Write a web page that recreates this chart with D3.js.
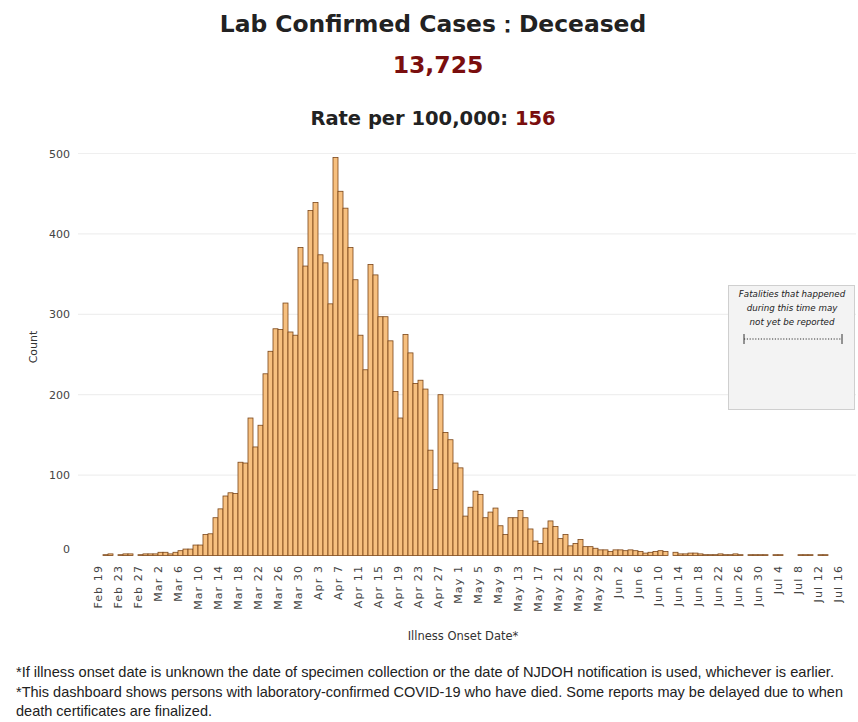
<!DOCTYPE html>
<html><head><meta charset="utf-8">
<script src="https://cdn.jsdelivr.net/npm/d3@7"></script>
<style>body{margin:0;background:#fff}</style>
</head><body>
<svg id="c" width="858" height="722"></svg>
<script>
// ---------- data ----------
const startDate = "Feb 19 2020";
// daily deceased counts by illness onset date, starting Feb 19, 2020
const counts = [
  0, 1, 2, 0, 1, 2, 2, 0, 1, 2, 2,
  2, 4, 4, 2, 4, 6, 8, 8, 13, 13,
  26, 27, 47, 58, 74, 78, 77, 116, 115, 171, 135, 162,
  226, 254, 282, 281, 314, 278, 274, 383, 360, 429, 439, 374, 364, 313,
  495, 453, 432, 383, 343, 274, 231, 362, 349, 297, 297, 267, 204, 171,
  275, 252, 214, 218, 207, 131, 82, 200, 153, 144, 115,
  109, 49, 60, 80, 76, 47, 54, 59, 37, 26, 47, 47, 56, 47, 33, 18, 15, 34, 43,
  36, 21, 26, 12, 15, 20, 11, 11, 9, 7,
  7, 5, 7, 7, 6, 7, 6, 5, 3, 4, 5, 6, 5, 0, 4, 2, 2, 3, 3, 2,
  1, 1, 1, 2, 1, 1, 2, 1, 0, 1, 1, 1, 1, 0, 1, 1, 0, 0, 0, 1, 1, 1, 0, 1, 1
];
const xTickLabels = ["Feb 19","Feb 23","Feb 27","Mar 2","Mar 6","Mar 10","Mar 14","Mar 18",
  "Mar 22","Mar 26","Mar 30","Apr 3","Apr 7","Apr 11","Apr 15","Apr 19","Apr 23","Apr 27",
  "May 1","May 5","May 9","May 13","May 17","May 21","May 25","May 29","Jun 2","Jun 6",
  "Jun 10","Jun 14","Jun 18","Jun 22","Jun 26","Jun 30","Jul 4","Jul 8","Jul 12","Jul 16"];
const yTicks = [0, 100, 200, 300, 400, 500];
const titleText = "Lab Confirmed Cases\uFF1ADeceased";
const totalText = "13,725";
const rateLabel = "Rate per 100,000: ";
const rateValue = "156";
const annotationLines = ["Fatalities that happened", "during this time may", "not yet be reported"];
const footnotes = [
  "*If illness onset date is unknown the date of specimen collection or the date of NJDOH notification is used, whichever is earlier.",
  "*This dashboard shows persons with laboratory-confirmed COVID-19 who have died. Some reports may be delayed due to when",
  "death certificates are finalized."
];
const footnoteWidths = [818, 827, 196];

// ---------- chart ----------
const svg = d3.select("#c");
const parse = d3.timeParse("%b %d %Y");
const tickDates = xTickLabels.map(s => parse(s + " 2020"));
const start = parse(startDate);
const data = counts.map((v, i) => ({date: d3.timeDay.offset(start, i), value: v}));

const x = d3.scaleTime().domain([tickDates[0], tickDates[tickDates.length - 1]]).range([98, 838]);
const y = d3.scaleLinear().domain([0, 500]).range([555.5, 153.5]);

const verdana = "Verdana, 'DejaVu Sans', sans-serif";

// title
svg.append("text").attr("x", 433).attr("y", 32).attr("text-anchor", "middle")
  .attr("font-family", verdana).attr("font-weight", "bold").attr("font-size", 23.4)
  .attr("fill", "#222").text(titleText);
svg.append("text").attr("x", 438).attr("y", 73).attr("text-anchor", "middle")
  .attr("font-family", verdana).attr("font-weight", "bold").attr("font-size", 23.5)
  .attr("fill", "#7a0e0e").text(totalText);
const rate = svg.append("text").attr("x", 433).attr("y", 125).attr("text-anchor", "middle")
  .attr("font-family", verdana).attr("font-weight", "bold").attr("font-size", 19.5).attr("fill", "#222");
rate.append("tspan").text(rateLabel);
rate.append("tspan").attr("fill", "#7a0e0e").text(rateValue);

// gridlines + y axis
const yAxis = d3.axisLeft(y).tickValues(yTicks).tickSize(0).tickPadding(0);
const gy = svg.append("g").attr("transform", "translate(70,0)").call(yAxis);
gy.select(".domain").remove();
gy.selectAll("text").attr("font-family", verdana).attr("font-size", 11).attr("fill", "#444")
  .attr("dy", d => d === 0 ? "-0.3em" : "0.32em");
const gridG = svg.append("g");
gridG.selectAll("line").data(yTicks.filter(d => d > 0)).join("line")
  .attr("x1", 78).attr("x2", 856).attr("y1", d => y(d)).attr("y2", d => y(d))
  .attr("stroke", "#efefef").attr("stroke-width", 1.2);

svg.append("text").attr("transform", "translate(37,347) rotate(-90)").attr("text-anchor", "middle")
  .attr("font-family", verdana).attr("font-size", 11).attr("fill", "#333").text("Count");

// bars
svg.append("g").selectAll("rect").data(data.filter(d => d.value > 0)).join("rect")
  .attr("x", d => x(d.date))
  .attr("width", d => x(d3.timeDay.offset(d.date, 1)) - x(d.date))
  .attr("y", d => y(d.value))
  .attr("height", d => y(0) - y(d.value))
  .attr("fill", "#f7c07f").attr("stroke", "#7a4518").attr("stroke-width", 0.8);

// x axis
const xAxis = d3.axisBottom(x).tickValues(tickDates).tickFormat(d3.timeFormat("%b %-d")).tickSize(0);
const gx = svg.append("g").attr("transform", "translate(0,556)").call(xAxis);
gx.select(".domain").remove();
gx.selectAll("text").attr("font-family", verdana).attr("font-size", 11).attr("fill", "#444")
  .attr("letter-spacing", "1.1px")
  .attr("text-anchor", "end").attr("transform", "rotate(-90)")
  .attr("x", -9).attr("y", 0).attr("dy", "0.35em");

svg.append("text").attr("x", 463).attr("y", 640).attr("text-anchor", "middle")
  .attr("font-family", verdana).attr("font-size", 11.5).attr("fill", "#333").text("Illness Onset Date*");

// annotation box
const ann = svg.append("g");
ann.append("rect").attr("x", 728.5).attr("y", 285.5).attr("width", 126).attr("height", 124)
  .attr("fill", "#f3f3f3").attr("stroke", "#cfcfcf");
ann.selectAll("text").data(annotationLines).join("text")
  .attr("x", 792).attr("y", (d, i) => 297 + i * 14).attr("text-anchor", "middle")
  .attr("font-family", verdana).attr("font-style", "italic").attr("font-size", 8.7).attr("fill", "#222")
  .text(d => d);
ann.append("line").attr("x1", 744).attr("x2", 842).attr("y1", 339).attr("y2", 339)
  .attr("stroke", "#333").attr("stroke-dasharray", "1.2,1.6");
[744, 842].forEach(xx => ann.append("line").attr("x1", xx).attr("x2", xx).attr("y1", 334).attr("y2", 344).attr("stroke", "#333"));

// footnotes
svg.append("g").selectAll("text").data(footnotes).join("text")
  .attr("x", 16).attr("y", (d, i) => 677 + i * 19.5)
  .attr("font-family", "'Liberation Sans', Arial, sans-serif").attr("font-size", 14.5).attr("fill", "#222")
  .attr("textLength", (d, i) => footnoteWidths[i]).attr("lengthAdjust", "spacingAndGlyphs")
  .text(d => d);
</script>
</body></html>
